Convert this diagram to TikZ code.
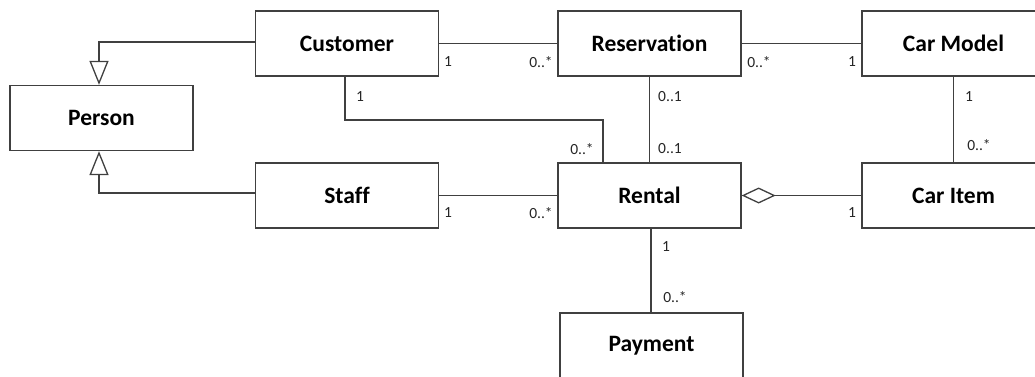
\documentclass[tikz,border=0pt]{standalone}
\usepackage{fontspec}
\setmainfont{Carlito}[Ligatures=NoCommon]
\usetikzlibrary{arrows.meta}
\definecolor{ink}{RGB}{64,64,64}
\begin{document}
\begin{tikzpicture}[x=1pt,y=-1pt,
  cls/.style={draw=ink,line width=1.3pt,fill=white,minimum width=183pt,minimum height=65pt,
    inner sep=0pt,font=\fontsize{23.5}{26}\selectfont\bfseries,text=black},
  assoc/.style={draw=ink,line width=1.3pt},
  mult/.style={font=\fontsize{15.5}{18}\selectfont,text=black!85,inner sep=0pt},
  gen/.style={-{Triangle[open,length=24pt,width=19pt,line width=1.3pt]}},
  agg/.style={{Diamond[open,length=34pt,width=16pt,line width=1.3pt]}-}]
\useasboundingbox (0,0) rectangle (1035,376);
\clip (0,0) rectangle (1035,376);
\fill[white] (0,0) rectangle (1035,376);

% classes
\node[cls] (person)      at (101.5,118)   {Person};
\node[cls] (customer)    at (347,43.5)    {Customer};
\node[cls] (staff)       at (347,195.5)   {Staff};
\node[cls] (reservation) at (649.5,43.5)  {Reservation};
\node[cls] (rental)      at (649.5,195.5) {Rental};
\node[cls] (carmodel)    at (953.5,43.5)  {Car Model};
\node[cls] (caritem)     at (953.5,195.5) {Car Item};
\node[cls] (payment)     at (651.5,345.5) {Payment};

% generalisation towards Person
\coordinate (gtop) at (99,42);
\coordinate (gbot) at (99,193);
\draw[assoc,gen] (customer.west |- gtop) -- (gtop) -- (gtop |- person.north);
\draw[assoc,gen] (staff.west |- gbot) -- (gbot) -- (gbot |- person.south);

% associations
\draw[assoc] (customer.east) -- (reservation.west);
\draw[assoc] (reservation.east) -- (carmodel.west);
\draw[assoc] (staff.east) -- (rental.west);
\draw[assoc] (reservation.south) -- (rental.north);
\draw[assoc] (carmodel.south) -- (caritem.north);
\coordinate (cbend) at (603,120);
\draw[assoc] ([xshift=-2pt]customer.south) |- (cbend) -- (cbend |- rental.north);
\draw[assoc] ([xshift=1.5pt]rental.south) -- ([xshift=-0.5pt]payment.north);
\draw[assoc,agg] (rental.east) -- (caritem.west);

% multiplicities
\node[mult] (m1)  at (448,62)  {1};
\node[mult] (m2)  at (541,62)  {0..*};
\node[mult] (m3)  at (759,62)  {0..*};
\node[mult] (m4)  at (852,62)  {1};
\node[mult] (m5)  at (360,97)  {1};
\node[mult] (m6)  at (582,149) {0..*};
\node[mult] (m7)  at (670,97)  {0..1};
\node[mult] (m8)  at (670,149) {0..1};
\node[mult] (m9)  at (969,97)  {1};
\node[mult] (m10) at (979,145) {0..*};
\node[mult] (m11) at (448,213) {1};
\node[mult] (m12) at (541,213) {0..*};
\node[mult] (m13) at (852,213) {1};
\node[mult] (m14) at (666,247) {1};
\node[mult] (m15) at (675,297) {0..*};
\end{tikzpicture}
\end{document}
